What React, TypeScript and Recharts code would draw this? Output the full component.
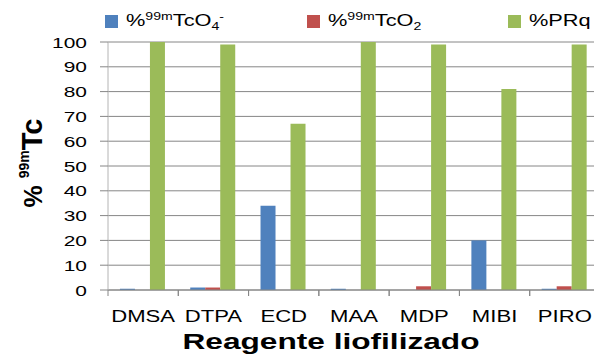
import { BarChart, Bar, XAxis, YAxis, CartesianGrid, Label } from 'recharts';

const categories = ['DMSA', 'DTPA', 'ECD', 'MAA', 'MDP', 'MIBI', 'PIRO'];
const tco4 = [0.5, 1, 34, 0.5, 0, 20, 0.5];
const tco2 = [0, 1, 0, 0, 1.5, 0, 1.5];
const prq = [100, 99, 67, 100, 99, 81, 99];
const yTicks = [0, 10, 20, 30, 40, 50, 60, 70, 80, 90, 100];

const data = categories.map((name, i) => ({ name, tco4: tco4[i], tco2: tco2[i], prq: prq[i] }));

const CHART_W = 610;
const CHART_H = 354;
const Y_W = 108;
const MARGIN = { top: 42, right: 10, left: 0, bottom: 0 };
const BAND = (CHART_W - MARGIN.right - Y_W) / categories.length;

const FONT = '"Liberation Sans", Arial, sans-serif';
const GRID = '#868686';

const YTick = ({ x, y, payload }: any) => (
  <text
    transform={`translate(${x},${y + 5.5}) scale(1.35,1)`}
    textAnchor="end"
    fontFamily={FONT}
    fontSize={15.5}
    fill="#000"
  >
    {payload.value}
  </text>
);

const XTick = ({ x, y, payload }: any) => (
  <g>
    <line x1={x - BAND / 2} x2={x - BAND / 2} y1={y - 8} y2={y - 2} stroke={GRID} />
    <line x1={x + BAND / 2} x2={x + BAND / 2} y1={y - 8} y2={y - 2} stroke={GRID} />
    <text
      transform={`translate(${x},${y + 24}) scale(1.3,1)`}
      textAnchor="middle"
      fontFamily={FONT}
      fontSize={17}
      fill="#000"
    >
      {payload.value}
    </text>
  </g>
);

const YTitle = ({ viewBox }: any) => {
  const cy = viewBox.y + viewBox.height / 2 - 3;
  return (
    <text
      transform={`translate(42,${cy}) rotate(-90)`}
      textAnchor="middle"
      fontFamily={FONT}
      fontWeight="bold"
      fill="#000"
    >
      <tspan fontSize={25}>%  </tspan>
      <tspan fontSize={14} dy={-13}>99m</tspan>
      <tspan fontSize={29} dy={13}>Tc</tspan>
    </text>
  );
};

const legendItems = [
  { color: '#4F81BD', left: 105, label: (<>%<sup>99m</sup>TcO<sub>4</sub><sup>-</sup></>) },
  { color: '#C0504D', left: 307, label: (<>%<sup>99m</sup>TcO<sub>2</sub></>) },
  { color: '#9BBB59', left: 508, label: (<>%PRq</>) },
];

const subSup = `
  .lg sup { font-size: 11px; vertical-align: 6px; line-height: 0; }
  .lg sub { font-size: 11px; vertical-align: -4px; line-height: 0; }
`;

export default function App() {
  return (
    <div style={{ position: 'absolute', left: 0, top: 0, width: 594, height: 354, overflow: 'hidden', background: '#fff' }}>
      <style>{subSup}</style>
      {legendItems.map((it, i) => (
        <div key={i} className="lg" style={{ position: 'absolute', left: it.left, top: 9, height: 24, display: 'flex', alignItems: 'center', fontFamily: FONT, fontSize: 17, color: '#000', whiteSpace: 'nowrap' }}>
          <span style={{ display: 'inline-block', width: 13, height: 13, background: it.color, marginRight: 8 }} />
          <span style={{ display: 'inline-block', transform: 'scaleX(1.28)', transformOrigin: 'left center' }}>{it.label}</span>
        </div>
      ))}
      <BarChart width={CHART_W} height={CHART_H} data={data} margin={MARGIN} barCategoryGap="17%" barGap={0}>
        <CartesianGrid vertical={false} stroke={GRID} />
        <XAxis
          dataKey="name"
          height={64}
          tickLine={false}
          axisLine={{ stroke: GRID }}
          tick={<XTick />}
          interval={0}
        >
          <Label
            position="insideBottom"
            content={() => (
              <text x={331} y={349} textAnchor="middle" fontFamily={FONT} fontWeight="bold" fontSize={22} textLength={297} lengthAdjust="spacingAndGlyphs" fill="#000">
                Reagente liofilizado
              </text>
            )}
          />
        </XAxis>
        <YAxis
          width={Y_W}
          domain={[0, 100]}
          ticks={yTicks}
          interval={0}
          tickSize={8}
          tickMargin={13}
          tickLine={{ stroke: GRID }}
          axisLine={{ stroke: '#b4b4b4' }}
          tick={<YTick />}
        >
          <Label content={<YTitle />} />
        </YAxis>
        <Bar dataKey="tco4" fill="#4F81BD" isAnimationActive={false} />
        <Bar dataKey="tco2" fill="#C0504D" isAnimationActive={false} />
        <Bar dataKey="prq" fill="#9BBB59" isAnimationActive={false} />
      </BarChart>
    </div>
  );
}
